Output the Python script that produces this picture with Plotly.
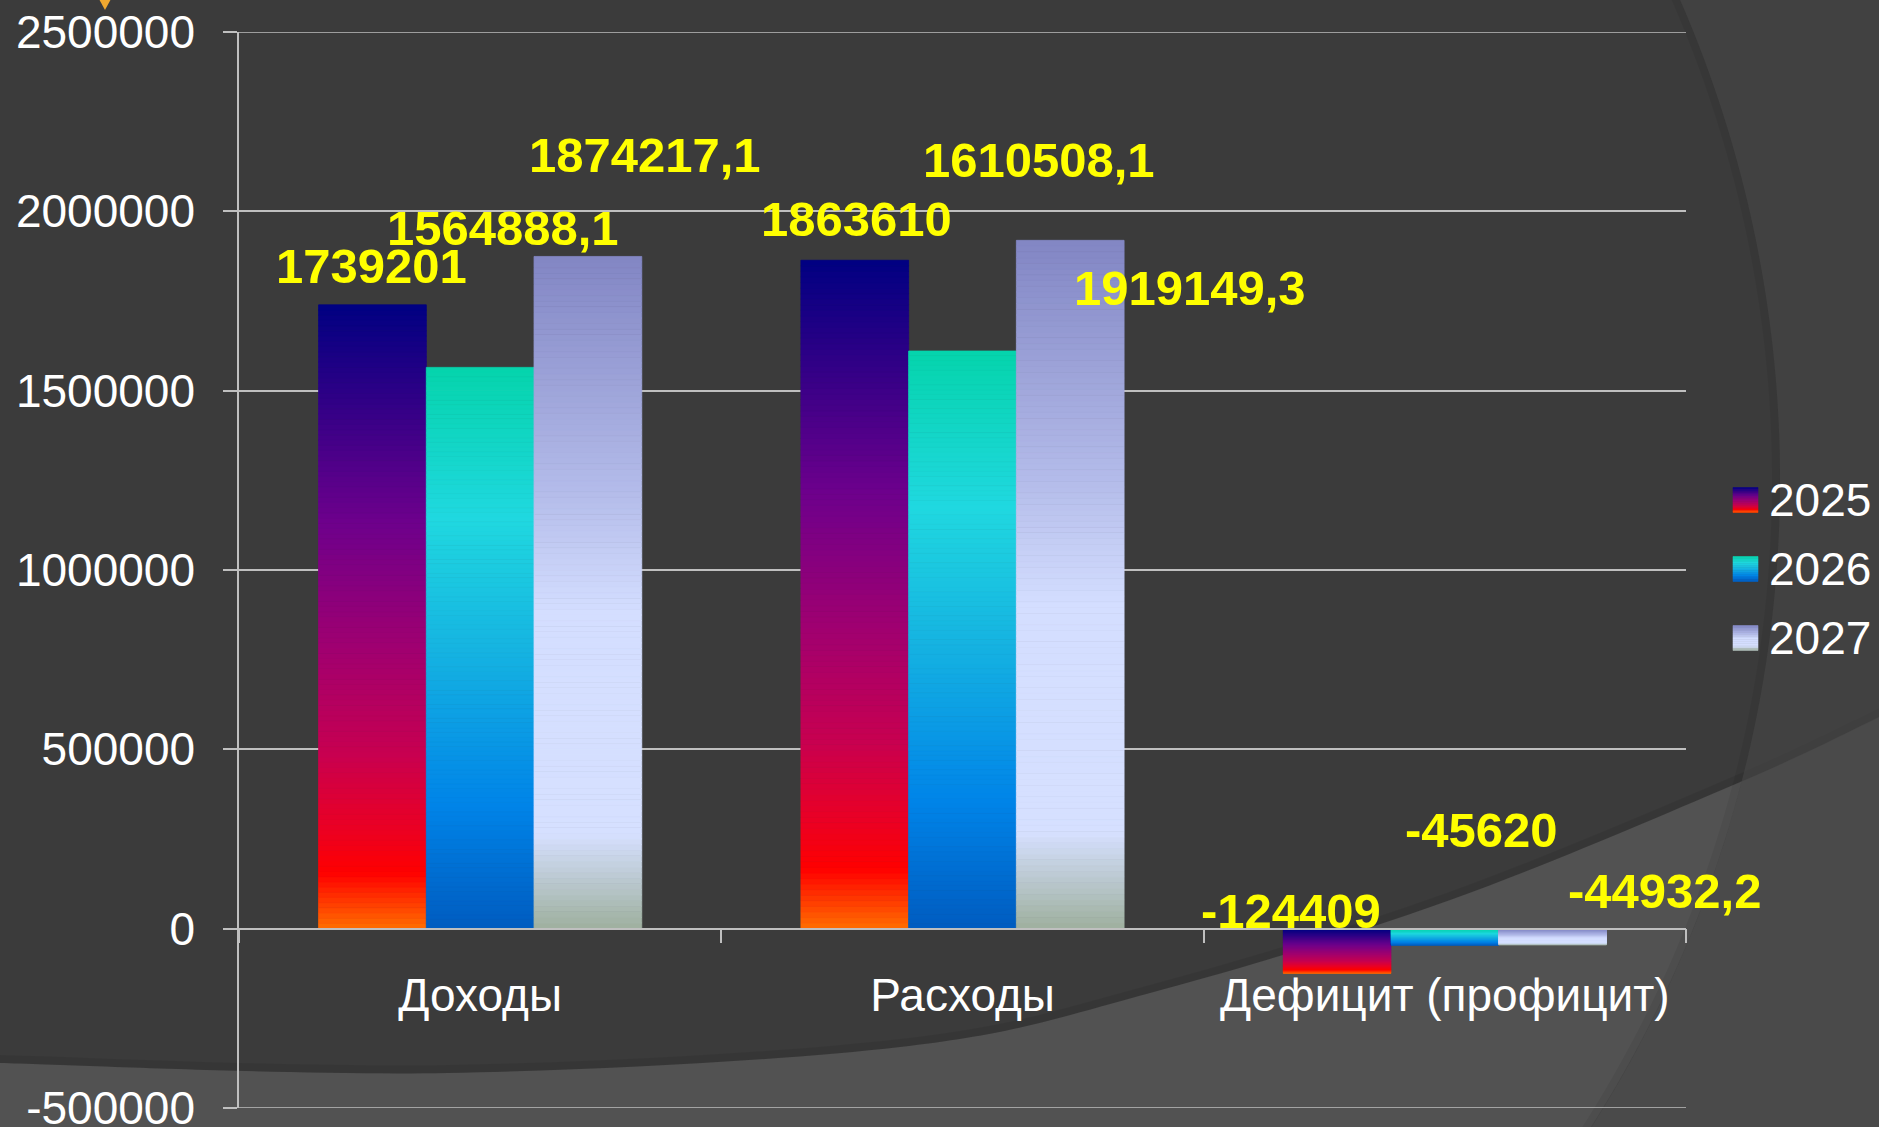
import math
import plotly.graph_objects as go

# ---------------- data ----------------
categories = ["Доходы", "Расходы", "Дефицит (профицит)"]
years = ["2025", "2026", "2027"]
values_2025 = [1739201, 1863610, -124409]
values_2026 = [1564888.1, 1610508.1, -45620]
values_2027 = [1874217.1, 1919149.3, -44932.2]
y_tick_values = [-500000, 0, 500000, 1000000, 1500000, 2000000, 2500000]
y_tick_labels = ["-500000", "0", "500000", "1000000", "1500000", "2000000", "2500000"]

series_values = [values_2025, values_2026, values_2027]

# ---------------- styles ----------------
W, H = 1879, 1127
ML, MR, MT, MB = 239, 193, 32, 19
FONT = "Liberation Sans, Arial, sans-serif"
BG = "#3b3b3b"
GRID = "#bfbfbf"

# gradient stops: (fraction from top of bar, rgb)
gradients = [
    [(0.0, (0, 0, 130)), (0.35, (110, 0, 140)), (0.55, (160, 0, 112)), (0.72, (200, 0, 80)),
     (0.84, (235, 0, 35)), (0.91, (255, 0, 0)), (1.0, (255, 110, 0))],
    [(0.0, (5, 212, 172)), (0.27, (32, 216, 224)), (0.5, (22, 180, 225)), (0.78, (0, 132, 232)),
     (1.0, (0, 92, 192))],
    [(0.0, (130, 134, 196)), (0.35, (180, 188, 234)), (0.53, (212, 222, 255)), (0.86, (214, 224, 255)),
     (1.0, (158, 176, 158))],
]


def grad_color(stops, t):
    for (t0, c0), (t1, c1) in zip(stops[:-1], stops[1:]):
        if t <= t1:
            f = 0 if t1 == t0 else (t - t0) / (t1 - t0)
            c = [round(a + (b - a) * f) for a, b in zip(c0, c1)]
            return "rgb(%d,%d,%d)" % tuple(c)
    return "rgb(%d,%d,%d)" % stops[-1][1]


def fmt(v):
    if float(v).is_integer():
        return str(int(v))
    return ("%.1f" % v).replace(".", ",")


fig = go.Figure()

# bars drawn as gradient slices (each slice derived from the data value)
N = 120
for s, vals in enumerate(series_values):
    for k in range(N):
        bases, heights = [], []
        for v in vals:
            lo, hi = min(0, v), max(0, v)
            bases.append(lo + (hi - lo) * k / N)
            heights.append((hi - lo) / N)
        t = 1 - (k + 0.5) / N
        col = grad_color(gradients[s], t)
        fig.add_trace(go.Bar(
            x=categories, y=heights, base=bases,
            offsetgroup=years[s], name=years[s],
            marker=dict(color=col, line=dict(width=0.8, color=col)),
            showlegend=False, hoverinfo="skip",
        ))

# ---------------- background decoration ----------------
PW = W - ML - MR
PH = H - MT - MB


def px2x(px):
    return (px - ML) / PW


def py2y(py):
    return (H - MB - py) / PH


def catmull(points):
    d = "M%.5f,%.5f" % (px2x(points[0][0]), py2y(points[0][1]))
    P = [points[0]] + points + [points[-1]]
    for i in range(1, len(P) - 2):
        p0, p1, p2, p3 = P[i - 1], P[i], P[i + 1], P[i + 2]
        c1 = (p1[0] + (p2[0] - p0[0]) / 6, p1[1] + (p2[1] - p0[1]) / 6)
        c2 = (p2[0] - (p3[0] - p1[0]) / 6, p2[1] - (p3[1] - p1[1]) / 6)
        d += " C%.5f,%.5f %.5f,%.5f %.5f,%.5f" % (px2x(c1[0]), py2y(c1[1]), px2x(c2[0]), py2y(c2[1]),
                                                 px2x(p2[0]), py2y(p2[1]))
    return d


lower_pts = [(-30, 1062), (0, 1063), (448, 1073), (900, 1047), (1150, 993), (1450, 900),
             (1740, 782), (1879, 717), (1910, 702)]
shapes = []
lower_path = catmull(lower_pts) + " L%.5f,%.5f L%.5f,%.5f Z" % (px2x(1910), py2y(1140), px2x(-30), py2y(1140))
shapes.append(dict(type="path", path=lower_path, xref="paper", yref="paper", layer="below",
                   fillcolor="#525252", line=dict(width=0)))
shadow_pts = [(x, y - 4) for x, y in lower_pts]
shapes.append(dict(type="path", path=catmull(shadow_pts), xref="paper", yref="paper", layer="below",
                   line=dict(color="rgba(0,0,0,0.07)", width=8)))

CX, CY, R = 578, 480, 1202
arc = []
yy = -10
while yy <= 1140:
    arc.append((CX + math.sqrt(R * R - (yy - CY) ** 2), yy))
    yy += 10
arc_path = "M" + " L".join("%.5f,%.5f" % (px2x(x), py2y(y)) for x, y in arc)
arc_path += " L%.5f,%.5f L%.5f,%.5f Z" % (px2x(1910), py2y(1140), px2x(1910), py2y(-10))
shapes.append(dict(type="path", path=arc_path, xref="paper", yref="paper", layer="below",
                   fillcolor="rgba(69,69,69,0.61)", line=dict(width=0)))
arc_sh = "M" + " L".join("%.5f,%.5f" % (px2x(x - 4), py2y(y)) for x, y in arc)
shapes.append(dict(type="path", path=arc_sh, xref="paper", yref="paper", layer="below",
                   line=dict(color="rgba(0,0,0,0.06)", width=8)))

# small orange glyph at top-left
shapes.append(dict(type="path", xref="paper", yref="paper", layer="below",
                   path="M%.5f,%.5f L%.5f,%.5f L%.5f,%.5f Z" % (px2x(99), py2y(-1), px2x(111), py2y(-1),
                                                                px2x(105), py2y(10)),
                   fillcolor="#f0a830", line=dict(width=0)))

ymin, ymax = y_tick_values[0], y_tick_values[-1]

# gridlines at the two ends of the value range (plotly omits them)
for yv in (ymin, ymax):
    shapes.append(dict(type="line", xref="paper", yref="y", x0=0, x1=1, y0=yv, y1=yv,
                       layer="below", line=dict(color=GRID, width=1.5)))

# ---------------- custom legend (gradient swatches) ----------------
annotations = []
legend_cy = [500, 569, 638]
NS = 14
for s in range(3):
    top = legend_cy[s] - 12.5
    for k in range(NS):
        y0 = top + 25 * k / NS
        y1 = top + 25 * (k + 1) / NS
        col = grad_color(gradients[s], (k + 0.5) / NS)
        shapes.append(dict(type="rect", xref="paper", yref="paper",
                           x0=px2x(1733), x1=px2x(1758), y0=py2y(y1), y1=py2y(y0),
                           fillcolor=col, line=dict(width=0.6, color=col)))
    annotations.append(dict(x=px2x(1767), y=py2y(legend_cy[s]), xref="paper", yref="paper",
                            xanchor="left", yanchor="middle", text=years[s], showarrow=False,
                            font=dict(family=FONT, size=46, color="white")))

# ---------------- data labels ----------------
label_shifts = [
    [(-109, 39), (-106, 41), (-154, 62)],
    [(23, 139), (76, 191), (37, 115)],
    [(165, 101), (227, -48), (220, 54)],
]
for s, vals in enumerate(series_values):
    for c, v in enumerate(vals):
        dx, dy = label_shifts[s][c]
        annotations.append(dict(x=categories[c], y=v, xref="x", yref="y", text=fmt(v),
                                showarrow=False, xanchor="center", yanchor="middle",
                                xshift=dx, yshift=dy,
                                font=dict(family=FONT, size=49, color="#ffff00", weight="bold")))

fig.update_layout(
    width=W, height=H,
    margin=dict(l=ML, r=MR, t=MT, b=MB, pad=0, autoexpand=False),
    paper_bgcolor=BG, plot_bgcolor="rgba(0,0,0,0)",
    barmode="group", bargap=0.33, bargroupgap=0,
    showlegend=False,
    shapes=shapes, annotations=annotations,
    font=dict(family=FONT, color="white"),
    xaxis=dict(
        type="category", anchor="free", position=(0 - ymin) / (ymax - ymin),
        range=[-0.5, len(categories) - 0.5], autorange=False,
        showline=True, linecolor=GRID, linewidth=1.5,
        ticks="outside", tickson="boundaries", ticklen=14, tickcolor=GRID, tickwidth=1.5,
        showgrid=False, tickfont=dict(family=FONT, size=46, color="white"),
        tickangle=0, automargin=False,
        ticklabelstandoff=26, fixedrange=True,
    ),
    yaxis=dict(
        range=[ymin, ymax], autorange=False, tickvals=y_tick_values, ticktext=y_tick_labels,
        showgrid=True, gridcolor=GRID, gridwidth=1.5, zeroline=False,
        showline=True, linecolor=GRID, linewidth=1.5,
        ticks="outside", ticklen=14, tickcolor=GRID, tickwidth=1.5,
        tickfont=dict(family=FONT, size=46, color="white"),
        automargin=False, ticklabeloverflow="allow",
        ticklabelstandoff=19, fixedrange=True,
    ),
)

fig.write_html("out.html", post_script="document.body.style.margin='0';document.body.style.overflow='hidden';",
               config={"displayModeBar": False})
